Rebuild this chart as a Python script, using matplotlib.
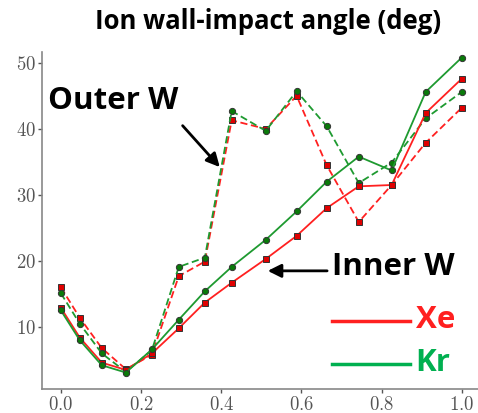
import matplotlib.pyplot as plt
from matplotlib.ticker import FuncFormatter

plt.rcParams['mathtext.fontset'] = 'cm'

# normalized position along the wall
x = [0.0, 0.047, 0.102, 0.162, 0.227, 0.294, 0.359, 0.426, 0.511, 0.588,
     0.663, 0.743, 0.825, 0.910, 1.0]

# inner wall (solid)
xe_inner = [12.9, 8.4, 4.6, 3.5, 6.0, 9.8, 13.7, 16.7, 20.3, 23.8, 28.0, 31.3, 31.5, 42.4, 47.6]
kr_inner = [12.5, 8.0, 4.2, 3.1, 6.6, 11.1, 15.4, 19.1, 23.2, 27.5, 32.0, 35.8, 33.7, 45.6, 50.8]
# outer wall (dashed)
xe_outer = [16.0, 11.4, 6.8, 3.6, 5.8, 17.7, 19.9, 41.3, 40.0, 45.0, 34.5, 25.9, 31.5, 37.9, 43.2]
kr_outer = [15.1, 10.5, 6.0, 3.2, 6.5, 19.1, 20.5, 42.7, 39.7, 45.7, 40.4, 31.8, 34.9, 41.6, 45.6]

xticks = [0.0, 0.2, 0.4, 0.6, 0.8, 1.0]
yticks = [10, 20, 30, 40, 50]

red = '#ff2020'
green = '#1e9a30'
bold_font = ['Open Sans', 'DejaVu Sans']

fig = plt.figure(figsize=(4.78, 4.13), dpi=100)
ax = fig.add_axes([0.088, 0.058, 0.92, 0.817])

sq = dict(marker='s', markersize=4, markeredgecolor='#333333', markeredgewidth=0.7)
ci = dict(marker='o', markersize=4.5, markeredgecolor='#333333', markeredgewidth=0.7)

ax.plot(x, xe_outer, color=red, lw=1.3, ls=(0, (4, 2)), markerfacecolor='#e00000', **sq)
ax.plot(x, kr_outer, color=green, lw=1.3, ls=(0, (4, 2)), markerfacecolor='#0a7a0a', **ci)
ax.plot(x, xe_inner, color=red, lw=1.3, markerfacecolor='#e00000', **sq)
ax.plot(x, kr_inner, color=green, lw=1.3, markerfacecolor='#0a7a0a', **ci)

ax.set_xlim(-0.047, 1.05)
ax.set_ylim(0.6, 51.7)
ax.set_xticks(xticks)
ax.set_yticks(yticks)
ax.xaxis.set_major_formatter(FuncFormatter(lambda v, p: r'$%.1f$' % v))
ax.yaxis.set_major_formatter(FuncFormatter(lambda v, p: r'$%d$' % v))
ax.tick_params(labelsize=13.5, colors='#555555', length=3, width=1, pad=1)
for s in ['top', 'right']:
    ax.spines[s].set_visible(False)
for s in ['left', 'bottom']:
    ax.spines[s].set_color('#888888')
    ax.spines[s].set_linewidth(1.2)

fig.text(0.56, 0.947, 'Ion wall-impact angle (deg)', ha='center', va='center',
         fontsize=18.5, fontweight='bold', family=bold_font)

# annotations
ax.text(-0.033, 44.2, 'Outer W', fontsize=22.5, fontweight='bold', family=bold_font, va='center')
ax.annotate('', xy=(0.401, 33.9), xytext=(0.299, 40.8),
            arrowprops=dict(arrowstyle='-|>', color='black', lw=2, mutation_scale=20))
ax.annotate('', xy=(0.509, 18.5), xytext=(0.671, 18.5),
            arrowprops=dict(arrowstyle='-|>', color='black', lw=2, mutation_scale=20))
ax.text(0.676, 19.1, 'Inner W', fontsize=22.5, fontweight='bold', family=bold_font, va='center')

# legend drawn by hand
ax.plot([0.676, 0.87], [10.9, 10.9], color=red, lw=2.5)
ax.text(0.885, 11.0, 'Xe', color=red, fontsize=22.5, fontweight='bold', family=bold_font, va='center')
ax.plot([0.676, 0.87], [4.4, 4.4], color='#00b050', lw=2.5)
ax.text(0.885, 4.5, 'Kr', color='#00b050', fontsize=22.5, fontweight='bold', family=bold_font, va='center')

fig.savefig('out.png', dpi=100)
